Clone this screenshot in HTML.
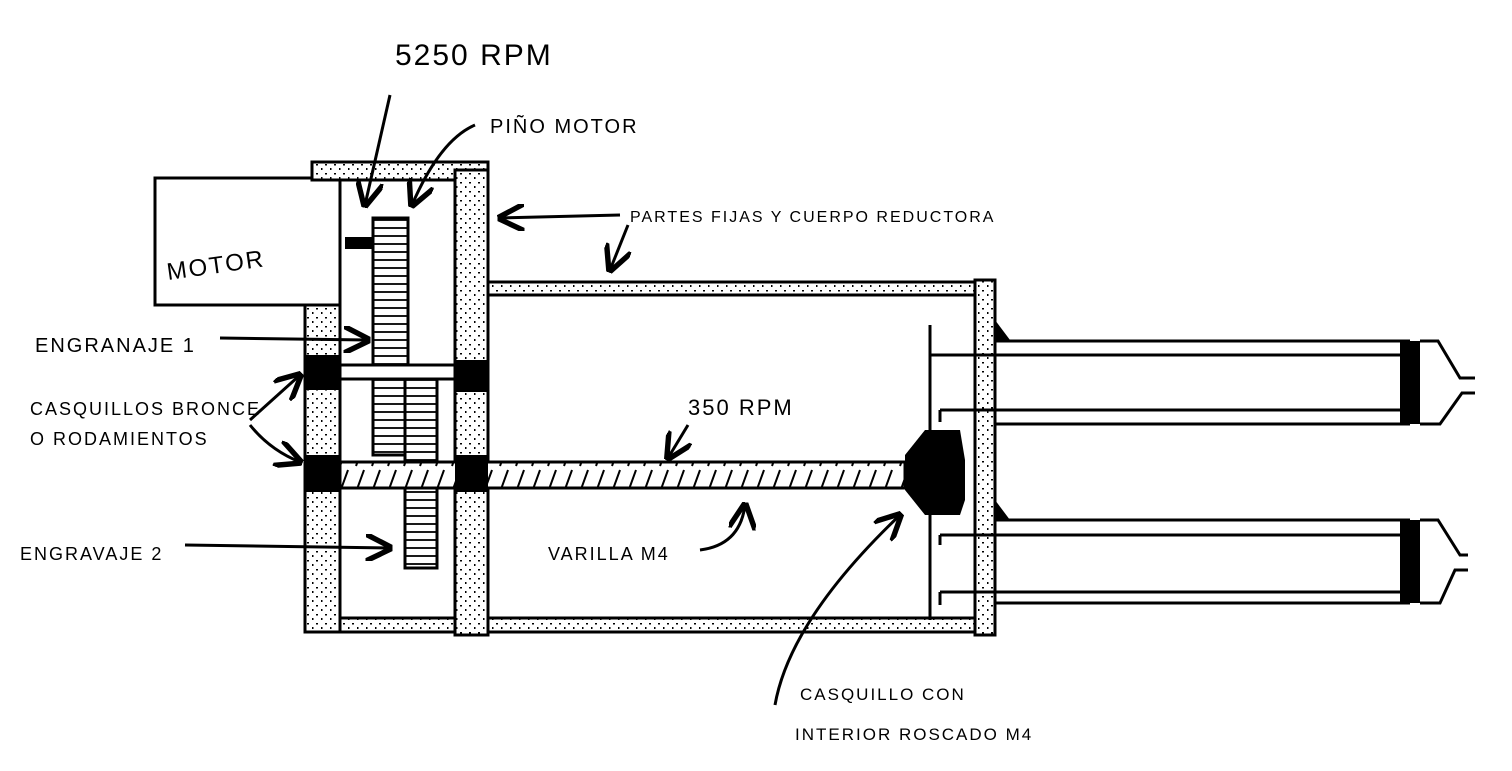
<!DOCTYPE html>
<html><head><meta charset="utf-8"><style>
html,body{margin:0;padding:0;background:#fff;}
svg{display:block}
text{font-family:"Liberation Sans",sans-serif;fill:#000;letter-spacing:2px}
</style></head><body>
<svg width="1512" height="771" viewBox="0 0 1512 771" xmlns="http://www.w3.org/2000/svg">
<defs>
<pattern id="dots" width="9" height="9" patternUnits="userSpaceOnUse">
<rect width="9" height="9" fill="#fff"/>
<rect x="1" y="2" width="2" height="1.5" fill="#000"/>
<rect x="6" y="6" width="1.5" height="2" fill="#000"/>
</pattern>
<pattern id="hatch" width="8" height="8" patternUnits="userSpaceOnUse">
<rect width="8" height="8" fill="#fff"/>
<line x1="0" y1="4" x2="8" y2="4" stroke="#000" stroke-width="1.8"/>
</pattern>
<pattern id="diag" width="16" height="26" patternUnits="userSpaceOnUse">
<rect width="16" height="26" fill="#fff"/>
<line x1="4" y1="24" x2="12" y2="2" stroke="#000" stroke-width="2"/>
</pattern>
<marker id="ar" viewBox="0 0 10 10" refX="9" refY="5" markerWidth="9" markerHeight="9" orient="auto"><path d="M0,0 L10,5 L0,10" fill="none" stroke="#000" stroke-width="2"/></marker>
</defs>
<g stroke="#000" stroke-width="3" fill="none">
<rect x="155" y="178" width="185" height="127" fill="#fff"/>
<rect x="312" y="162" width="176" height="18" fill="url(#dots)"/>
<rect x="305" y="305" width="35" height="327" fill="url(#dots)"/>
<line x1="340" y1="180" x2="340" y2="305"/>
<rect x="455" y="170" width="33" height="465" fill="url(#dots)"/>
<rect x="340" y="618" width="115" height="14" fill="url(#dots)"/>
<rect x="488" y="282" width="487" height="13" fill="url(#dots)"/>
<rect x="488" y="618" width="487" height="14" fill="url(#dots)"/>
<rect x="975" y="280" width="20" height="355" fill="url(#dots)"/>
<rect x="373" y="218" width="35" height="237" fill="url(#hatch)"/>
<rect x="405" y="378" width="32" height="190" fill="url(#hatch)"/>
<rect x="340" y="365" width="115" height="14" fill="#fff"/>
<rect x="340" y="462" width="565" height="26" fill="url(#diag)"/>
<line x1="930" y1="325" x2="930" y2="620"/>
<path d="M930 355 H1400 M940 410 V422 M940 410 H1400"/>
<path d="M940 535 V545 M940 535 H1400 M940 592 H1400 M940 592 V605"/>
<path d="M995 341 H1410 M995 424 H1410"/>
<path d="M995 520 H1410 M995 603 H1410"/>
<path d="M1420 341 H1438 L1460 378 H1475 M1475 393 H1462 L1440 424 H1420"/>
<path d="M1420 520 H1438 L1460 555 H1468 M1468 570 H1455 L1440 603 H1420"/>
<path d="M390 95 L365 205" marker-end="url(#ar)"/>
<path d="M475 125 Q440 140 412 205" marker-end="url(#ar)"/>
<path d="M620 215 L500 218" marker-end="url(#ar)"/>
<path d="M628 225 L610 270" marker-end="url(#ar)"/>
<path d="M220 338 L368 340" marker-end="url(#ar)"/>
<path d="M250 420 L300 375" marker-end="url(#ar)"/>
<path d="M250 425 Q270 450 300 462" marker-end="url(#ar)"/>
<path d="M185 545 L390 548" marker-end="url(#ar)"/>
<path d="M700 550 Q740 545 745 505" marker-end="url(#ar)"/>
<path d="M688 425 L668 458" marker-end="url(#ar)"/>
<path d="M775 705 Q790 620 900 515" marker-end="url(#ar)"/>
</g>
<g fill="#000">
<rect x="305" y="355" width="35" height="35"/>
<rect x="455" y="360" width="33" height="32"/>
<rect x="305" y="455" width="35" height="37"/>
<rect x="455" y="455" width="33" height="37"/>
<rect x="345" y="237" width="28" height="12"/>
<path d="M905 455 L925 430 H960 L965 460 V500 L960 515 H925 L905 490 Z"/>
<rect x="1400" y="341" width="20" height="83"/>
<rect x="1400" y="520" width="20" height="83"/>
<path d="M995 320 L1010 340 H995 Z M995 500 L1010 520 H995 Z"/>
</g>
<text x="395" y="65" font-size="30">5250 RPM</text>
<text x="490" y="133" font-size="20">PIÑO MOTOR</text>
<text x="168" y="280" font-size="24" transform="rotate(-8 168 280)">MOTOR</text>
<text x="630" y="222" font-size="16" letter-spacing="3">PARTES FIJAS Y CUERPO REDUCTORA</text>
<text x="35" y="352" font-size="20">ENGRANAJE 1</text>
<text x="30" y="415" font-size="18" letter-spacing="1">CASQUILLOS BRONCE</text>
<text x="30" y="445" font-size="18">O RODAMIENTOS</text>
<text x="20" y="560" font-size="18">ENGRAVAJE 2</text>
<text x="688" y="415" font-size="22">350 RPM</text>
<text x="548" y="560" font-size="18">VARILLA M4</text>
<text x="800" y="700" font-size="17">CASQUILLO CON</text>
<text x="795" y="740" font-size="17">INTERIOR ROSCADO M4</text>
</svg>
</body></html>
